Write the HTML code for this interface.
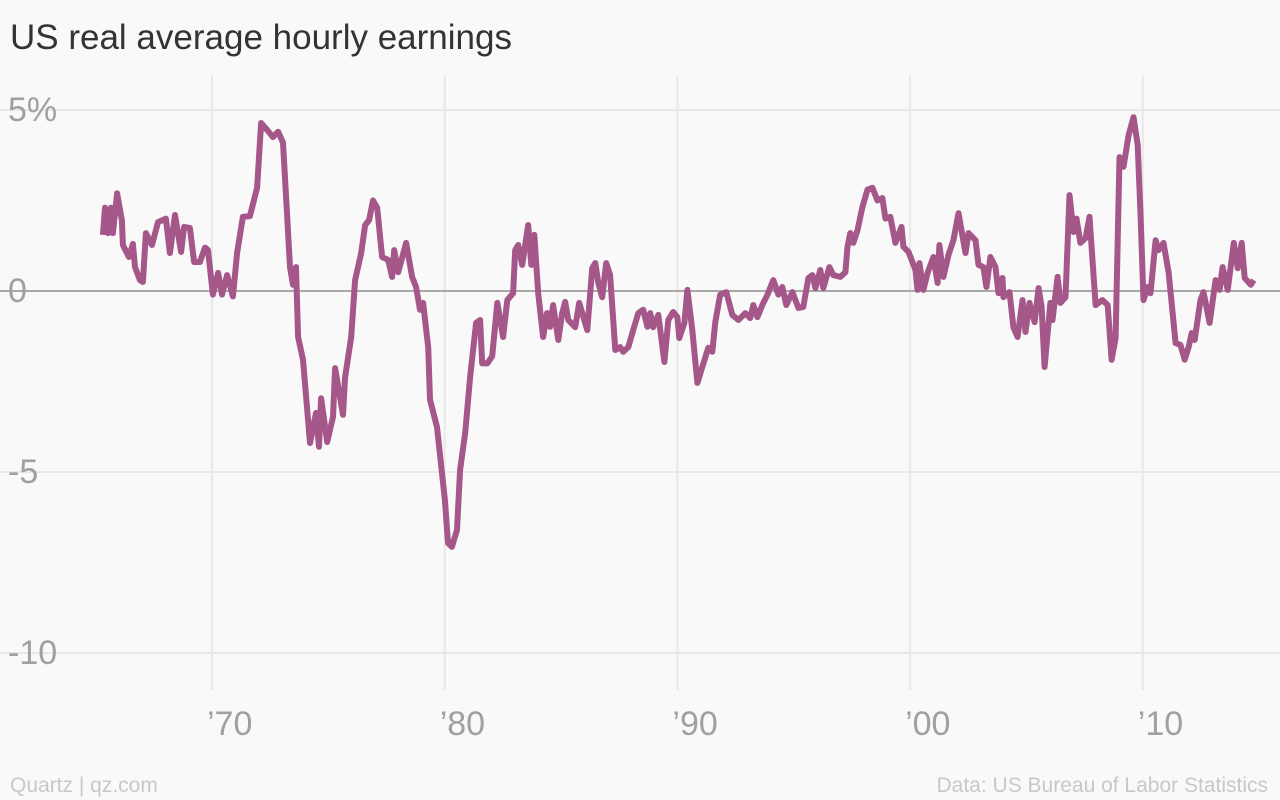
<!DOCTYPE html>
<html><head><meta charset="utf-8"><style>
body{margin:0;background:#f9f9f9;font-family:"Liberation Sans",sans-serif;}
svg{display:block}
</style></head><body>
<svg width="1280" height="800">
<rect width="1280" height="800" fill="#f9f9f9"/>
<text x="10" y="49" font-size="35" fill="#333">US real average hourly earnings</text>
<g id="grid"></g>
<g id="axes"></g>
<path id="line" fill="none" stroke="#a5578a" stroke-width="6" stroke-linejoin="round"/>
<text x="10" y="792" font-size="21" fill="#c8c8c8">Quartz | qz.com</text>
<text x="1268" y="792" font-size="21" fill="#c8c8c8" text-anchor="end">Data: US Bureau of Labor Statistics</text>
</svg>
<script>
const years=[1965.31,1965.40,1965.53,1965.66,1965.74,1965.92,1966.13,1966.17,1966.43,1966.60,1966.69,1966.90,1967.03,1967.16,1967.42,1967.68,1968.02,1968.19,1968.41,1968.67,1968.80,1969.05,1969.23,1969.48,1969.70,1969.83,1970.04,1970.26,1970.43,1970.65,1970.90,1971.08,1971.33,1971.63,1971.94,1972.11,1972.37,1972.62,1972.84,1973.05,1973.23,1973.35,1973.48,1973.61,1973.70,1973.91,1974.21,1974.47,1974.60,1974.69,1974.95,1975.20,1975.29,1975.63,1975.72,1975.98,1976.15,1976.41,1976.58,1976.75,1976.92,1977.10,1977.31,1977.57,1977.74,1977.83,1978.00,1978.34,1978.60,1978.77,1978.94,1979.07,1979.29,1979.37,1979.67,1980.01,1980.14,1980.31,1980.53,1980.66,1980.88,1981.09,1981.35,1981.52,1981.61,1981.83,1982.04,1982.26,1982.51,1982.69,1982.94,1983.03,1983.16,1983.33,1983.59,1983.72,1983.85,1984.02,1984.23,1984.40,1984.53,1984.66,1984.88,1985.05,1985.18,1985.31,1985.61,1985.78,1986.13,1986.34,1986.47,1986.60,1986.77,1986.94,1987.11,1987.33,1987.54,1987.67,1987.89,1988.10,1988.32,1988.53,1988.71,1988.83,1988.96,1989.18,1989.44,1989.61,1989.82,1990.00,1990.08,1990.30,1990.43,1990.64,1990.86,1991.07,1991.33,1991.50,1991.63,1991.84,1992.10,1992.36,1992.62,1992.92,1993.13,1993.26,1993.44,1993.65,1993.87,1994.12,1994.34,1994.51,1994.68,1994.94,1995.20,1995.41,1995.63,1995.80,1995.93,1996.14,1996.27,1996.53,1996.70,1997.00,1997.22,1997.31,1997.43,1997.56,1997.74,1997.95,1998.17,1998.38,1998.60,1998.81,1998.94,1999.15,1999.37,1999.63,1999.71,1999.93,2000.23,2000.32,2000.40,2000.57,2000.75,2001.00,2001.18,2001.26,2001.43,2001.65,2001.86,2002.08,2002.38,2002.51,2002.81,2002.94,2003.15,2003.28,2003.45,2003.67,2003.80,2003.97,2004.01,2004.27,2004.44,2004.62,2004.83,2004.96,2005.13,2005.35,2005.52,2005.65,2005.78,2006.03,2006.12,2006.34,2006.46,2006.68,2006.85,2007.02,2007.15,2007.32,2007.54,2007.71,2007.97,2008.27,2008.49,2008.66,2008.83,2009.00,2009.17,2009.39,2009.60,2009.78,2009.90,2010.03,2010.21,2010.33,2010.55,2010.68,2010.89,2011.11,2011.41,2011.62,2011.80,2011.97,2012.10,2012.23,2012.48,2012.61,2012.87,2013.13,2013.30,2013.43,2013.65,2013.91,2014.08,2014.25,2014.38,2014.64,2014.77];
const values=[1.55,2.3,1.6,2.3,1.6,2.7,1.95,1.27,0.94,1.3,0.66,0.3,0.25,1.6,1.27,1.9,2.0,1.05,2.1,1.08,1.77,1.74,0.8,0.8,1.2,1.13,-0.1,0.5,-0.1,0.44,-0.15,1.05,2.05,2.07,2.85,4.64,4.45,4.25,4.4,4.1,2.05,0.66,0.17,0.66,-1.27,-1.9,-4.2,-3.37,-4.3,-2.96,-4.17,-3.48,-2.13,-3.42,-2.38,-1.27,0.3,1.05,1.82,1.96,2.5,2.3,0.94,0.86,0.39,1.13,0.52,1.33,0.39,0.11,-0.52,-0.33,-1.55,-3.0,-3.76,-5.77,-6.96,-7.07,-6.6,-4.94,-3.92,-2.38,-0.88,-0.8,-2.0,-2.0,-1.8,-0.33,-1.27,-0.25,-0.06,1.13,1.27,0.72,1.82,0.72,1.55,-0.06,-1.27,-0.61,-0.99,-0.39,-1.35,-0.61,-0.3,-0.8,-1.0,-0.33,-1.08,0.63,0.77,0.22,-0.17,0.77,0.44,-1.63,-1.55,-1.68,-1.55,-1.08,-0.61,-0.52,-0.99,-0.61,-1.0,-0.66,-1.96,-0.8,-0.58,-0.72,-1.3,-0.88,0.03,-1.08,-2.54,-2.1,-1.57,-1.68,-0.86,-0.1,-0.03,-0.66,-0.8,-0.61,-0.75,-0.39,-0.72,-0.39,-0.1,0.3,-0.1,0.11,-0.39,-0.03,-0.47,-0.44,0.36,0.44,0.08,0.58,0.08,0.66,0.44,0.39,0.52,1.22,1.6,1.33,1.68,2.32,2.8,2.85,2.5,2.57,2.0,2.05,1.33,1.77,1.22,1.08,0.58,0.03,0.77,0.03,0.5,0.94,0.22,1.27,0.39,1.0,1.4,2.15,1.05,1.6,1.4,0.72,0.66,0.11,0.94,0.66,-0.06,0.36,-0.17,-0.03,-1.0,-1.27,-0.25,-1.13,-0.33,-0.86,0.08,-0.44,-2.1,-0.33,-0.8,0.39,-0.33,-0.17,2.65,1.63,2.0,1.33,1.46,2.05,-0.39,-0.25,-0.39,-1.9,-1.3,3.7,3.43,4.3,4.8,4.03,2.15,-0.25,0.11,-0.06,1.4,1.13,1.33,0.52,-1.44,-1.49,-1.9,-1.55,-1.16,-1.35,-0.25,-0.03,-0.88,0.3,0.03,0.66,0.03,1.33,0.63,1.33,0.36,0.17,0.3];
const yTicks=[5,0,-5,-10];
const yTickLabels=["5%","0","-5","-10"];
const xTicks=[1970,1980,1990,2000,2010];
const xTickLabels=["\u201970","\u201980","\u201990","\u201900","\u201910"];

const X=yr=>212+(yr-1970)*23.27;
const Y=v=>291-v*36.2;
const NS="http://www.w3.org/2000/svg";
const grid=document.getElementById('grid'), axes=document.getElementById('axes');
xTicks.forEach((t,i)=>{
  const l=document.createElementNS(NS,'line');
  l.setAttribute('x1',X(t));l.setAttribute('x2',X(t));l.setAttribute('y1',75);l.setAttribute('y2',690);
  l.setAttribute('stroke','#e8e8e8');l.setAttribute('stroke-width','2');
  
  
  grid.appendChild(l);
  const tx=document.createElementNS(NS,'text');
  tx.setAttribute('x',X(t)-5);tx.setAttribute('y',735);tx.setAttribute('font-size','34');tx.setAttribute('fill','#a0a0a0');
  tx.textContent=xTickLabels[i];
  
  
  axes.appendChild(tx);
});
yTicks.forEach((t,i)=>{
  const l=document.createElementNS(NS,'line');
  l.setAttribute('x1',0);l.setAttribute('x2',1280);l.setAttribute('y1',Y(t));l.setAttribute('y2',Y(t));
  l.setAttribute('stroke',t===0?'#a8a8a8':'#e8e8e8');l.setAttribute('stroke-width','2');
  
  
  grid.appendChild(l);
  const tx=document.createElementNS(NS,'text');
  tx.setAttribute('x',8);tx.setAttribute('y',Y(t)+11);tx.setAttribute('font-size','34');tx.setAttribute('fill','#a0a0a0');
  tx.textContent=yTickLabels[i];
  
  
  axes.appendChild(tx);
});
document.getElementById('line').setAttribute('d',years.map((yr,i)=>(i?'L':'M')+X(yr).toFixed(1)+','+Y(values[i]).toFixed(1)).join(''));
</script>
</body></html>
